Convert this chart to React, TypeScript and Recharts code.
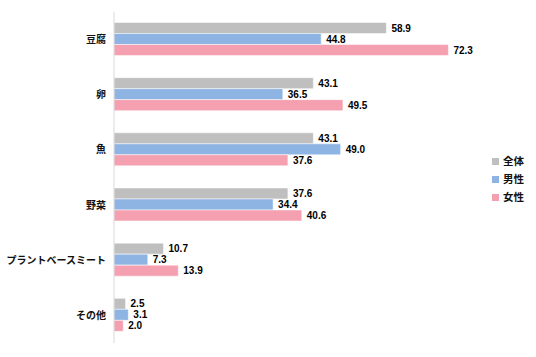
import React from 'react';
import { BarChart, Bar, XAxis, YAxis, Legend, LabelList } from 'recharts';

const categories = ['豆腐', '卵', '魚', '野菜', 'プラントベースミート', 'その他'];
const allValues = [58.9, 43.1, 43.1, 37.6, 10.7, 2.5];
const maleValues = [44.8, 36.5, 49.0, 34.4, 7.3, 3.1];
const femaleValues = [72.3, 49.5, 37.6, 40.6, 13.9, 2.0];
const seriesNames = ['全体', '男性', '女性'];
const colors = ['#BFBFBF', '#8EB4E3', '#F4A0B0'];

const data = categories.map((c, i) => ({
  name: c,
  all: allValues[i],
  male: maleValues[i],
  female: femaleValues[i],
}));

const keys = ['all', 'male', 'female'];

const labelStyle = { fontFamily: '"Liberation Sans", Arial, sans-serif', fontWeight: 700, fontSize: 10, fill: '#000' };

export default function App() {
  return (
    <div style={{ position: 'absolute', left: 0, top: 0, width: 536, height: 357, background: '#fff' }}>
      <BarChart
        width={536}
        height={357}
        data={data}
        layout="vertical"
        margin={{ top: 12, right: 10, bottom: 14, left: 0 }}
        barCategoryGap="19%"
        barGap={0}
      >
        <XAxis type="number" domain={[0, 80]} hide />
        <YAxis
          type="category"
          dataKey="name"
          width={114}
          tickLine={false}
          axisLine={{ stroke: '#D9D9D9' }}
          tick={{ fontFamily: '"Noto Sans CJK JP", sans-serif', fontWeight: 700, fontSize: 10, fill: '#111' }}
          interval={0}
        />
        <Legend
          layout="vertical"
          align="right"
          verticalAlign="middle"
          iconType="square"
          iconSize={7}
          itemSorter={(item: any) => keys.indexOf(item.dataKey)}
          wrapperStyle={{ right: 2, lineHeight: '18px', fontFamily: '"Noto Sans CJK JP", sans-serif', fontWeight: 700, fontSize: 10.5, color: '#111' }}
          formatter={(v: string) => <span style={{ color: '#111' }}>{v}</span>}
        />
        {keys.map((k, i) => (
          <Bar key={k} dataKey={k} name={seriesNames[i]} fill={colors[i]} stroke="#fff" strokeWidth={0.5} isAnimationActive={false}>
            <LabelList dataKey={k} position="right" offset={5} formatter={(v: number) => v.toFixed(1)} style={labelStyle} />
          </Bar>
        ))}
      </BarChart>
    </div>
  );
}
